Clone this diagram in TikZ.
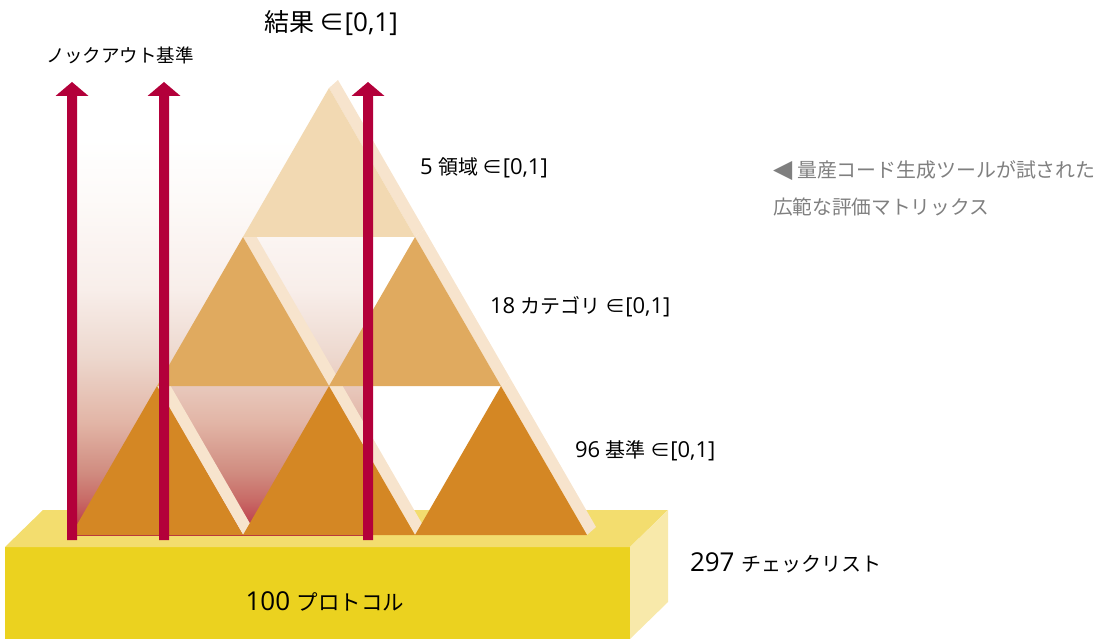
\documentclass[tikz,border=0pt]{standalone}
\usepackage{fontspec}
\setmainfont{Open Sans}
\newfontfamily\cjk{Noto Sans CJK JP}
\newfontfamily\dvs{DejaVu Sans}
\definecolor{arrowred}{HTML}{B3003A}
\definecolor{triA}{HTML}{F2D9B2}
\definecolor{triB}{HTML}{E0AA5F}
\definecolor{triC}{HTML}{D48724}
\definecolor{stripecol}{HTML}{F7E4CD}
\definecolor{boxfront}{HTML}{EBD21F}
\definecolor{boxtop}{HTML}{F3DD6E}
\definecolor{boxside}{HTML}{F8E9AA}
\definecolor{graytext}{HTML}{7F7F7F}
\definecolor{gA}{HTML}{B83040}
\definecolor{gB}{HTML}{C04852}
\definecolor{gC}{HTML}{C86A66}
\definecolor{gD}{HTML}{D08C80}
\definecolor{gE}{HTML}{E2B5A6}
\definecolor{gF}{HTML}{EDD8CE}
\definecolor{gG}{HTML}{F8EEEA}
\definecolor{gH}{HTML}{FDFAF8}
\pgfdeclareverticalshading{holegrad}{100bp}{color(0bp)=(gA); color(25bp)=(gA); color(26.7bp)=(gB); color(28.9bp)=(gC); color(32bp)=(gD); color(37.6bp)=(gE); color(45bp)=(gF); color(52.5bp)=(gG); color(62.6bp)=(gH); color(69.4bp)=(white); color(100bp)=(white)}
\newcommand\cj[2]{{\fontsize{#1}{#1}\selectfont\cjk #2}}
\newcommand\la[2]{{\fontsize{#1}{#1}\selectfont #2}}
% stripe behind a triangle: apex x, apex y
\newcommand\tristripe[2]{\fill[stripecol] (#1,#2) -- (#1+86,#2+149) -- (#1+95,#2+141) -- (#1+9,#2-8) -- cycle;}
\newcommand\trifill[3]{\fill[#3] (#1,#2) -- (#1+86,#2+149) -- (#1-86,#2+149) -- cycle;}
\newcommand\uparrowshape[1]{\fill[arrowred] (#1-5,540) -- (#1-5,96) -- (#1-16.5,96) -- (#1,82) -- (#1+16.5,96) -- (#1+5,96) -- (#1+5,540) -- cycle;}
\begin{document}
\begin{tikzpicture}[x=1pt,y=-1pt,
  lbl/.style={inner sep=0pt,outer sep=0pt,anchor=base west}]
\useasboundingbox (0,0) rectangle (1104,639);
% box
\fill[boxfront] (5,547) rectangle (630,639);
\fill[boxtop] (5,547) -- (43,510) -- (668,510) -- (630,547) -- cycle;
\fill[boxside] (630,547) -- (668,510) -- (668,602) -- (630,639) -- cycle;
% gradient background
\shade[shading=holegrad] (72,88) rectangle (368,535);
% stripes
\tristripe{329}{88}
\tristripe{243}{237}
\tristripe{415}{237}
\tristripe{157}{386}
\tristripe{329}{386}
\tristripe{501}{386}
% triangles
\trifill{329}{88}{triA}
\trifill{243}{237}{triB}
\trifill{415}{237}{triB}
\trifill{157}{386}{triC}
\trifill{329}{386}{triC}
\trifill{501}{386}{triC}
% arrows
\uparrowshape{72}
\uparrowshape{164}
\uparrowshape{368}
% texts
\node[lbl] (result) at (264,32) {\cj{25}{結果 ∈}\la{26}{[0,1]}};
\node[lbl] (knock) at (46,63) {\cj{18.5}{ノックアウト基準}};
\node[lbl] (dom) at (420,175) {\la{22}{5 }\cj{20}{領域 ∈}\la{22}{[0,1]}};
\node[lbl] (cat) at (490,314) {\la{22}{18 }\cj{20}{カテゴリ ∈}\la{22}{[0,1]}};
\node[lbl] (crit) at (575,457) {\la{22}{96 }\cj{20}{基準 ∈}\la{22}{[0,1]}};
\node[lbl,text=graytext] (note1) at (773,178) {\la{25}{\dvs ◀}\la{19}{ }\cj{19.9}{量産コード生成ツールが試された}};
\node[lbl,text=graytext] (note2) at (773,215) {\cj{19.7}{広範な評価マトリックス}};
\node[lbl] (check) at (690,571) {\la{26}{297 }\cj{20}{チェックリスト}};
\node[inner sep=0pt,anchor=base] (proto) at (325,610) {\la{26}{100 }\cj{21.5}{プロトコル}};
\end{tikzpicture}
\end{document}
